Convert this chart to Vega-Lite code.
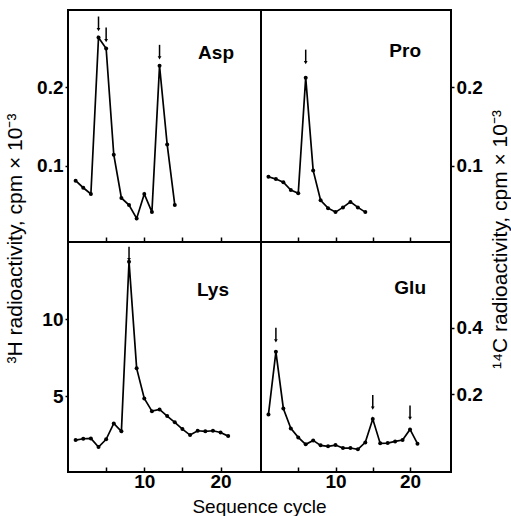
{
  "$schema": "https://vega.github.io/schema/vega-lite/v6.json",
  "padding": {"left": 2, "top": 9, "right": 0, "bottom": 0},
  "autosize": {"type": "pad"},
  "background": "white",
  "datasets": {
    "seq": [
      {"aa": "Asp", "cycle": 1, "value": 0.081, "arrow": false},
      {"aa": "Asp", "cycle": 2, "value": 0.072, "arrow": false},
      {"aa": "Asp", "cycle": 3, "value": 0.064, "arrow": false},
      {"aa": "Asp", "cycle": 4, "value": 0.263, "arrow": true},
      {"aa": "Asp", "cycle": 5, "value": 0.249, "arrow": true},
      {"aa": "Asp", "cycle": 6, "value": 0.114, "arrow": false},
      {"aa": "Asp", "cycle": 7, "value": 0.059, "arrow": false},
      {"aa": "Asp", "cycle": 8, "value": 0.05, "arrow": false},
      {"aa": "Asp", "cycle": 9, "value": 0.033, "arrow": false},
      {"aa": "Asp", "cycle": 10, "value": 0.064, "arrow": false},
      {"aa": "Asp", "cycle": 11, "value": 0.041, "arrow": false},
      {"aa": "Asp", "cycle": 12, "value": 0.227, "arrow": true},
      {"aa": "Asp", "cycle": 13, "value": 0.127, "arrow": false},
      {"aa": "Asp", "cycle": 14, "value": 0.05, "arrow": false},
      {"aa": "Pro", "cycle": 1, "value": 0.086, "arrow": false},
      {"aa": "Pro", "cycle": 2, "value": 0.083, "arrow": false},
      {"aa": "Pro", "cycle": 3, "value": 0.079, "arrow": false},
      {"aa": "Pro", "cycle": 4, "value": 0.069, "arrow": false},
      {"aa": "Pro", "cycle": 5, "value": 0.065, "arrow": false},
      {"aa": "Pro", "cycle": 6, "value": 0.212, "arrow": true},
      {"aa": "Pro", "cycle": 7, "value": 0.094, "arrow": false},
      {"aa": "Pro", "cycle": 8, "value": 0.056, "arrow": false},
      {"aa": "Pro", "cycle": 9, "value": 0.046, "arrow": false},
      {"aa": "Pro", "cycle": 10, "value": 0.041, "arrow": false},
      {"aa": "Pro", "cycle": 11, "value": 0.047, "arrow": false},
      {"aa": "Pro", "cycle": 12, "value": 0.054, "arrow": false},
      {"aa": "Pro", "cycle": 13, "value": 0.047, "arrow": false},
      {"aa": "Pro", "cycle": 14, "value": 0.041, "arrow": false},
      {"aa": "Lys", "cycle": 1, "value": 2.13, "arrow": false},
      {"aa": "Lys", "cycle": 2, "value": 2.22, "arrow": false},
      {"aa": "Lys", "cycle": 3, "value": 2.24, "arrow": false},
      {"aa": "Lys", "cycle": 4, "value": 1.68, "arrow": false},
      {"aa": "Lys", "cycle": 5, "value": 2.18, "arrow": false},
      {"aa": "Lys", "cycle": 6, "value": 3.22, "arrow": false},
      {"aa": "Lys", "cycle": 7, "value": 2.7, "arrow": false},
      {"aa": "Lys", "cycle": 8, "value": 13.77, "arrow": true},
      {"aa": "Lys", "cycle": 9, "value": 6.81, "arrow": false},
      {"aa": "Lys", "cycle": 10, "value": 4.85, "arrow": false},
      {"aa": "Lys", "cycle": 11, "value": 4.02, "arrow": false},
      {"aa": "Lys", "cycle": 12, "value": 4.13, "arrow": false},
      {"aa": "Lys", "cycle": 13, "value": 3.7, "arrow": false},
      {"aa": "Lys", "cycle": 14, "value": 3.29, "arrow": false},
      {"aa": "Lys", "cycle": 15, "value": 2.85, "arrow": false},
      {"aa": "Lys", "cycle": 16, "value": 2.46, "arrow": false},
      {"aa": "Lys", "cycle": 17, "value": 2.74, "arrow": false},
      {"aa": "Lys", "cycle": 18, "value": 2.7, "arrow": false},
      {"aa": "Lys", "cycle": 19, "value": 2.74, "arrow": false},
      {"aa": "Lys", "cycle": 20, "value": 2.63, "arrow": false},
      {"aa": "Lys", "cycle": 21, "value": 2.39, "arrow": false},
      {"aa": "Glu", "cycle": 1, "value": 0.14, "arrow": false},
      {"aa": "Glu", "cycle": 2, "value": 0.328, "arrow": true},
      {"aa": "Glu", "cycle": 3, "value": 0.158, "arrow": false},
      {"aa": "Glu", "cycle": 4, "value": 0.098, "arrow": false},
      {"aa": "Glu", "cycle": 5, "value": 0.071, "arrow": false},
      {"aa": "Glu", "cycle": 6, "value": 0.05, "arrow": false},
      {"aa": "Glu", "cycle": 7, "value": 0.062, "arrow": false},
      {"aa": "Glu", "cycle": 8, "value": 0.047, "arrow": false},
      {"aa": "Glu", "cycle": 9, "value": 0.044, "arrow": false},
      {"aa": "Glu", "cycle": 10, "value": 0.048, "arrow": false},
      {"aa": "Glu", "cycle": 11, "value": 0.039, "arrow": false},
      {"aa": "Glu", "cycle": 12, "value": 0.039, "arrow": false},
      {"aa": "Glu", "cycle": 13, "value": 0.035, "arrow": false},
      {"aa": "Glu", "cycle": 14, "value": 0.056, "arrow": false},
      {"aa": "Glu", "cycle": 15, "value": 0.126, "arrow": true},
      {"aa": "Glu", "cycle": 16, "value": 0.053, "arrow": false},
      {"aa": "Glu", "cycle": 17, "value": 0.054, "arrow": false},
      {"aa": "Glu", "cycle": 18, "value": 0.059, "arrow": false},
      {"aa": "Glu", "cycle": 19, "value": 0.063, "arrow": false},
      {"aa": "Glu", "cycle": 20, "value": 0.095, "arrow": true},
      {"aa": "Glu", "cycle": 21, "value": 0.052, "arrow": false}
    ]
  },
  "data": {"name": "seq"},
  "columns": 2,
  "spacing": 0,
  "bounds": "flush",
  "concat": [
    {
      "width": 193, "height": 232,
      "title": {"text": "Asp", "anchor": "end", "align": "right", "offset": -53, "dx": -27},
      "transform": [{"filter": "datum.aa === 'Asp'"}],
      "encoding": {
        "x": {"field": "cycle", "type": "quantitative", "scale": {"domain": [0, 25.3], "nice": false, "zero": false},
              "axis": {"values": [5, 10, 15, 20], "labels": false, "tickSize": -5, "title": null}},
        "y": {"field": "value", "type": "quantitative", "scale": {"domain": [0.003, 0.298], "nice": false, "zero": false},
              "axis": {"orient": "left", "values": [0.1, 0.2], "format": ".1f", "tickSize": 3, "labelPadding": 2,
                       "title": "³H radioactivity, cpm × 10⁻³", "titleFontSize": 21, "titleAngle": 270, "titleAlign": "center", "titleBaseline": "alphabetic", "titleX": -47, "titleY": 228}}
      },
      "layer": [
        {"mark": {"type": "line", "color": "black", "strokeWidth": 1.7}},
        {"mark": {"type": "point", "filled": true, "color": "black", "size": 16, "opacity": 1}},
        {"transform": [{"filter": "datum.arrow"}], "encoding": {"y2": {"field": "value"}}, "mark": {"type": "rule", "color": "black", "strokeWidth": 1.5, "yOffset": -21, "y2Offset": -9}},
        {"transform": [{"filter": "datum.arrow"}], "mark": {"type": "point", "shape": "triangle-down", "filled": true, "color": "black", "size": 14, "opacity": 1, "yOffset": -8}}
      ]
    },
    {
      "width": 190, "height": 232,
      "title": {"text": "Pro", "anchor": "end", "align": "right", "offset": -51, "dx": -30},
      "transform": [{"filter": "datum.aa === 'Pro'"}],
      "encoding": {
        "x": {"field": "cycle", "type": "quantitative", "scale": {"domain": [0, 25.5], "nice": false, "zero": false},
              "axis": {"values": [5, 10, 15, 20], "labels": false, "tickSize": -5, "title": null}},
        "y": {"field": "value", "type": "quantitative", "scale": {"domain": [0.003, 0.298], "nice": false, "zero": false},
              "axis": {"orient": "right", "values": [0.1, 0.2], "format": ".1f", "tickSize": 3, "labelPadding": 2,
                       "title": "¹⁴C radioactivity, cpm × 10⁻³", "titleFontSize": 21, "titleAngle": 270, "titleAlign": "center", "titleBaseline": "alphabetic", "titleX": 55, "titleY": 229}}
      },
      "layer": [
        {"mark": {"type": "line", "color": "black", "strokeWidth": 1.7}},
        {"mark": {"type": "point", "filled": true, "color": "black", "size": 16, "opacity": 1}},
        {"transform": [{"filter": "datum.arrow"}], "encoding": {"y2": {"field": "value"}}, "mark": {"type": "rule", "color": "black", "strokeWidth": 1.5, "yOffset": -28, "y2Offset": -16}},
        {"transform": [{"filter": "datum.arrow"}], "mark": {"type": "point", "shape": "triangle-down", "filled": true, "color": "black", "size": 14, "opacity": 1, "yOffset": -15}}
      ]
    },
    {
      "width": 193, "height": 230,
      "title": {"text": "Lys", "anchor": "end", "align": "right", "offset": -58, "dx": -32},
      "transform": [{"filter": "datum.aa === 'Lys'"}],
      "encoding": {
        "x": {"field": "cycle", "type": "quantitative", "scale": {"domain": [0, 25.3], "nice": false, "zero": false},
              "axis": {"values": [5, 10, 15, 20], "labelExpr": "datum.value % 10 === 0 ? datum.label : ''", "tickSize": -5, "labelPadding": 5,
                       "title": "Sequence cycle", "titleX": 191, "titlePadding": 6}},
        "y": {"field": "value", "type": "quantitative", "scale": {"domain": [0.05, 15.05], "nice": false, "zero": false},
              "axis": {"orient": "left", "values": [5, 10], "format": "d", "tickSize": 3, "labelPadding": 2, "title": null}}
      },
      "layer": [
        {"mark": {"type": "line", "color": "black", "strokeWidth": 1.7}},
        {"mark": {"type": "point", "filled": true, "color": "black", "size": 16, "opacity": 1}},
        {"transform": [{"filter": "datum.arrow"}], "encoding": {"y2": {"field": "value"}}, "mark": {"type": "rule", "color": "black", "strokeWidth": 1.5, "yOffset": -15, "y2Offset": -3}},
        {"transform": [{"filter": "datum.arrow"}], "mark": {"type": "point", "shape": "triangle-down", "filled": true, "color": "black", "size": 14, "opacity": 1, "yOffset": -2}}
      ]
    },
    {
      "width": 190, "height": 230,
      "title": {"text": "Glu", "anchor": "end", "align": "right", "offset": -56, "dx": -25},
      "transform": [{"filter": "datum.aa === 'Glu'"}],
      "encoding": {
        "x": {"field": "cycle", "type": "quantitative", "scale": {"domain": [0, 25.5], "nice": false, "zero": false},
              "axis": {"values": [5, 10, 15, 20], "labelExpr": "datum.value % 10 === 0 ? datum.label : ''", "tickSize": -5, "labelPadding": 5, "title": null}},
        "y": {"field": "value", "type": "quantitative", "scale": {"domain": [-0.033, 0.658], "nice": false, "zero": false},
              "axis": {"orient": "right", "values": [0.2, 0.4], "format": ".1f", "tickSize": 3, "labelPadding": 2, "title": null}}
      },
      "layer": [
        {"mark": {"type": "line", "color": "black", "strokeWidth": 1.7}},
        {"mark": {"type": "point", "filled": true, "color": "black", "size": 16, "opacity": 1}},
        {"transform": [{"filter": "datum.arrow"}], "encoding": {"y2": {"field": "value"}}, "mark": {"type": "rule", "color": "black", "strokeWidth": 1.5, "yOffset": -24, "y2Offset": -12}},
        {"transform": [{"filter": "datum.arrow"}], "mark": {"type": "point", "shape": "triangle-down", "filled": true, "color": "black", "size": 14, "opacity": 1, "yOffset": -11}}
      ]
    }
  ],
  "config": {
    "font": "Liberation Sans",
    "view": {"stroke": "black", "strokeWidth": 2},
    "title": {"font": "Liberation Sans", "fontSize": 19, "fontWeight": "bold", "color": "black", "frame": "group", "baseline": "alphabetic"},
    "axis": {
      "labelFont": "Liberation Sans", "labelFontSize": 19, "labelFontWeight": "bold", "labelColor": "black",
      "tickColor": "black", "tickWidth": 1.5, "domain": false, "grid": false,
      "titleFont": "Liberation Sans", "titleFontSize": 19, "titleFontWeight": "normal", "titleColor": "black"
    }
  }
}
